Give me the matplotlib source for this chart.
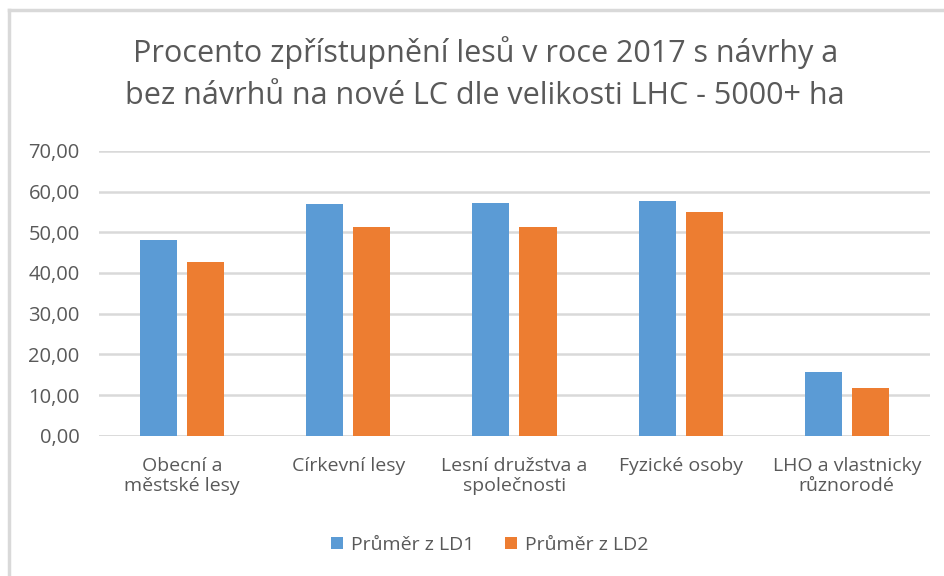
#!/usr/bin/env python3

import numpy as np
from matplotlib import pyplot as plt
from matplotlib.lines import Line2D

out_filename = "out.png"

categories = [
    "Obecní a\nměstské lesy",
    "Církevní lesy",
    "Lesní družstva a\nspolečnosti",
    "Fyzické osoby",
    "LHO a vlastnicky\nrůznorodé",
]
ld1 = [48.1, 56.9, 57.2, 57.8, 15.6]
ld2 = [42.6, 51.4, 51.2, 54.9, 11.6]
series_names = ["Průměr z LD1", "Průměr z LD2"]
yticks = [0, 10, 20, 30, 40, 50, 60, 70]

title = ("Procento zpřístupnění lesů v roce 2017 s návrhy a\n"
         "bez návrhů na nové LC dle velikosti LHC - 5000+ ha")


def main():
    plt.rcParams["font.family"] = ["Open Sans", "DejaVu Sans"]
    text_color = "#595959"
    grid_color = "#d9d9d9"

    fig = plt.figure(figsize=(9.44, 5.76), dpi=100)
    ax = fig.add_axes([0.105, 0.2436, 0.88, 0.4944])

    x = np.arange(len(categories))
    width = 0.223
    gap = 0.06
    ax.bar(x - (width + gap) / 2, ld1, width, color="#5B9BD5",
           label=series_names[0], zorder=3)
    ax.bar(x + (width + gap) / 2, ld2, width, color="#ED7D31",
           label=series_names[1], zorder=3)

    ax.set_xlim(-0.5, len(categories) - 0.5)
    ax.set_ylim(0, 70)
    ax.set_yticks(yticks)
    ax.set_yticklabels([f"{v:.2f}".replace(".", ",") for v in yticks])
    ax.set_xticks(x)
    ax.set_xticklabels(categories, linespacing=1.15)

    ax.tick_params(axis="y", length=0, pad=14, labelsize=14.5,
                   labelcolor=text_color)
    ax.tick_params(axis="x", length=0, pad=15, labelsize=14,
                   labelcolor=text_color)
    for spine in ax.spines.values():
        spine.set_visible(False)
    ax.grid(axis="y", color=grid_color, linewidth=1.8, zorder=0)
    ax.axhline(0, color=grid_color, linewidth=1.8, zorder=1)

    fig.text(0.514, 0.872, title, ha="center", va="center", fontsize=22,
             color=text_color, linespacing=1.5)

    handles, labels = ax.get_legend_handles_labels()
    fig.legend(handles, labels, loc="center", bbox_to_anchor=(0.519, 0.054),
               ncol=2, frameon=False, fontsize=14, labelcolor=text_color,
               handlelength=0.6, handleheight=0.6, handletextpad=0.4,
               columnspacing=1.6)

    # chart frame (left and top edges visible)
    fig.add_artist(Line2D([0.0095, 0.0095], [0, 0.982], color=grid_color,
                          linewidth=2.5, transform=fig.transFigure))
    fig.add_artist(Line2D([0.0095, 1.0], [0.982, 0.982], color=grid_color,
                          linewidth=2.5, transform=fig.transFigure))

    fig.savefig(out_filename, dpi=100, facecolor="white")
    plt.close()


if __name__ == "__main__":
    main()
